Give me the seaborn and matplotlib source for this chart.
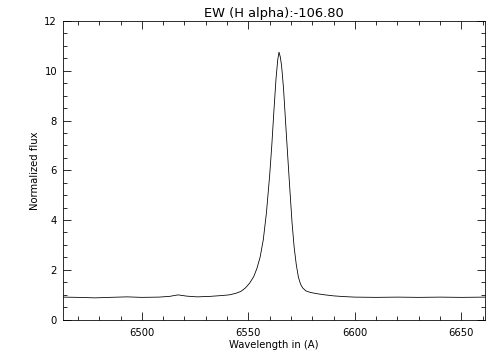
import numpy as np
import pandas as pd
import seaborn as sns
import matplotlib
matplotlib.use("Agg")
import matplotlib.pyplot as plt
from matplotlib.ticker import MultipleLocator

# H-alpha profile
wavelength = [6463, 6470, 6478, 6485, 6493, 6500, 6508, 6513, 6517, 6521,
              6526, 6532, 6537, 6541, 6544, 6546.5, 6548.5, 6550.5, 6552.5, 6554,
              6555.5, 6557, 6558.5, 6560, 6561, 6562, 6563, 6563.8, 6564.4, 6565,
              6565.6, 6566.5, 6567.5, 6568.6, 6569.5, 6570.5, 6571.5, 6572.5, 6573.5, 6574.5,
              6575.5, 6577, 6579, 6582, 6586, 6590, 6595, 6600, 6610, 6620,
              6630, 6640, 6650, 6661]
flux = [0.90, 0.89, 0.87, 0.89, 0.91, 0.89, 0.90, 0.93, 0.99, 0.94,
        0.91, 0.93, 0.96, 0.99, 1.05, 1.13, 1.26, 1.45, 1.72, 2.05,
        2.50, 3.20, 4.30, 5.80, 7.00, 8.40, 9.70, 10.45, 10.75, 10.55,
        10.20, 9.30, 7.90, 6.40, 5.20, 3.90, 2.90, 2.20, 1.70, 1.42,
        1.27, 1.15, 1.09, 1.04, 0.99, 0.95, 0.92, 0.90, 0.89, 0.90,
        0.89, 0.90, 0.89, 0.90]
ew_halpha = -106.80

df = pd.DataFrame({"wave": wavelength, "flux": flux})

sns.set_style("ticks")
plt.rcParams["font.family"] = ["DejaVu Sans"]

fig = plt.figure(figsize=(7, 5), dpi=72)
ax = fig.add_axes([0.125, 0.1125, 0.837, 0.829])

sns.lineplot(data=df, x="wave", y="flux", color="black", linewidth=0.8, ax=ax)

ax.set_xlim(6463, 6661)
ax.set_ylim(0, 12)
ax.xaxis.set_major_locator(MultipleLocator(50))
ax.xaxis.set_minor_locator(MultipleLocator(10))
ax.yaxis.set_major_locator(MultipleLocator(2))
ax.yaxis.set_minor_locator(MultipleLocator(0.5))
ax.tick_params(which="both", direction="in", top=True, right=True,
               width=0.8, labelsize=10, color="black", labelcolor="black")
ax.tick_params(which="major", length=8)
ax.tick_params(axis="x", which="major", pad=8)
ax.tick_params(axis="y", which="major", pad=6)
ax.tick_params(which="minor", length=4)
for s in ax.spines.values():
    s.set_linewidth(0.8)
    s.set_color("black")

ax.set_title(f"EW (H alpha):{ew_halpha:.2f}", fontsize=13, pad=4, color="black")
ax.set_xlabel("Wavelength in (A)", fontsize=10, color="black", labelpad=3)
ax.set_ylabel("Normalized flux", fontsize=10, color="black")

fig.savefig("out.png", dpi=72)
